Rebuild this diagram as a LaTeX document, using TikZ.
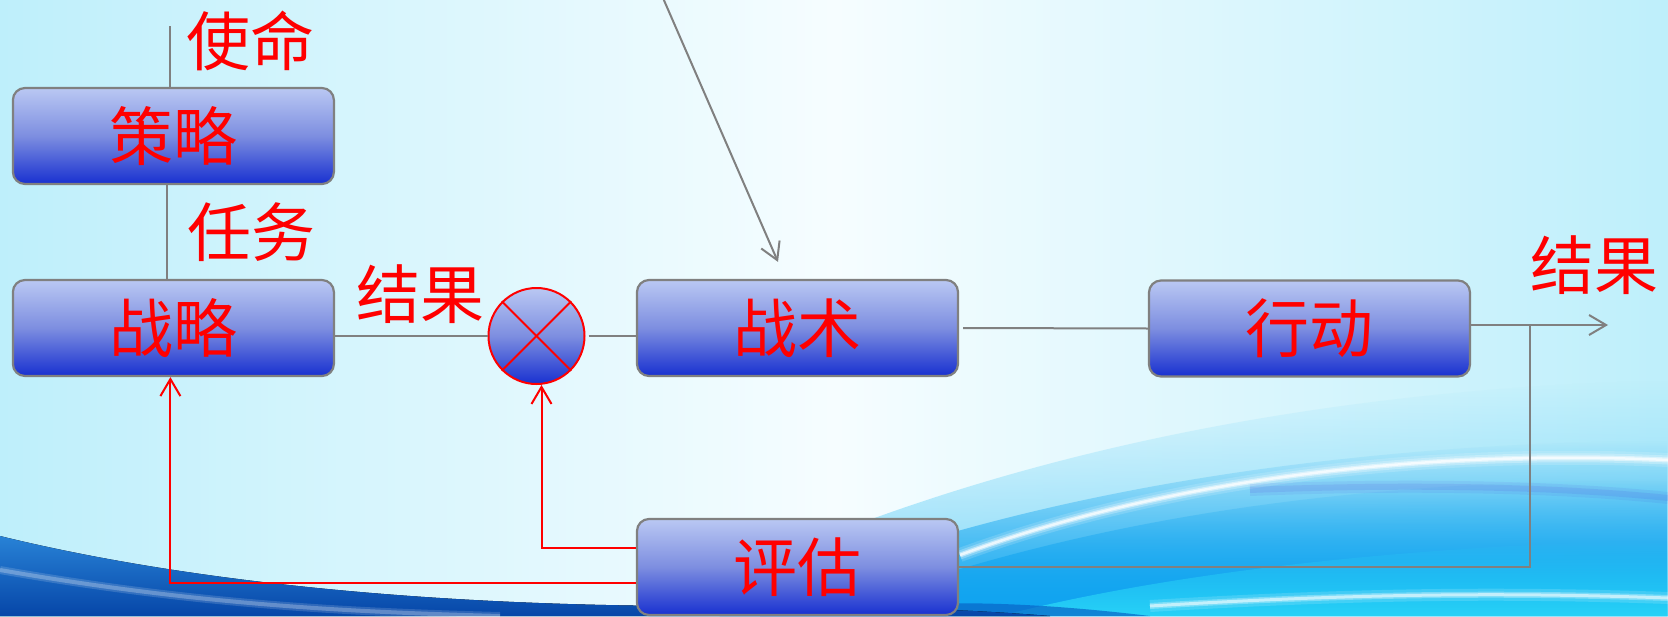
\documentclass[tikz,border=0pt]{standalone}
\usepackage{fontspec}
\newfontfamily\cjk{Noto Sans CJK SC}
\usetikzlibrary{arrows.meta,calc,fadings}
\definecolor{boxtop}{RGB}{186,200,243}
\definecolor{boxmid}{RGB}{125,142,224}
\definecolor{boxbot}{RGB}{24,48,208}
\definecolor{edgegray}{RGB}{128,128,128}
\definecolor{bgside}{RGB}{190,239,251}
\definecolor{bgmid}{RGB}{246,253,255}
\definecolor{wavelight}{RGB}{120,214,248}
\definecolor{wavemid}{RGB}{16,164,240}
\definecolor{wavebot}{RGB}{44,218,248}
\definecolor{wavedark}{RGB}{8,100,200}
\definecolor{deeptop}{RGB}{40,130,214}
\definecolor{deepbot}{RGB}{6,70,168}
\begin{document}
\begin{tikzpicture}[x=1pt,y=-1pt,
  stage/.style={draw=edgegray, line width=2.2pt, rounded corners=12pt,
    minimum width=321pt, minimum height=96pt, inner sep=0pt,
    top color=boxtop, bottom color=boxbot, middle color=boxmid,
    font=\cjk\fontsize{64}{64}\selectfont, text=red},
  sumnode/.style={circle, draw=red, line width=2pt, minimum size=96pt, inner sep=0pt,
    top color=boxtop, bottom color=boxbot, middle color=boxmid},
  lbl/.style={font=\cjk\fontsize{64}{64}\selectfont, text=red, inner sep=0pt},
  grayline/.style={draw=edgegray, line width=2pt},
  redline/.style={draw=red, line width=2pt},
  barb/.style={-{Straight Barb[length=17pt,width=20pt]}}
]
\useasboundingbox (0,0) rectangle (1668,616);
\clip (0,0) rectangle (1668,616);
% background
\fill[left color=bgside, right color=bgside, middle color=bgmid] (0,0) rectangle (1668,616);
% right wave, soft layers
\fill[wavelight, path fading=north]
  (650,616) .. controls (950,460) and (1300,390) .. (1668,380) -- (1668,616) -- cycle;
\fill[wavemid, path fading=north]
  (720,616) .. controls (980,500) and (1300,445) .. (1668,440) -- (1668,616) -- cycle;
\fill[wavemid, path fading=north]
  (820,616) .. controls (1050,530) and (1300,480) .. (1668,480) -- (1668,616) -- cycle;
\fill[wavebot, opacity=.85, path fading=north]
  (1000,616) .. controls (1200,565) and (1450,545) .. (1668,540) -- (1668,616) -- cycle;
\fill[wavedark, opacity=.7]
  (760,616) .. controls (900,600) and (1000,598) .. (1150,616) -- cycle;
% streaks
\foreach \w/\o in {14/.15,9/.25,5/.45,2.5/.7}
  \draw[white, opacity=\o, line width=\w pt] (960,555) .. controls (1150,485) and (1400,448) .. (1668,460);
\foreach \w/\o in {12/.06,6/.08}
  \draw[blue!60!violet, opacity=\o, line width=\w pt] (1250,490) .. controls (1400,484) and (1550,486) .. (1668,498);
\foreach \w/\o in {12/.15,6/.3,3/.55}
  \draw[white, opacity=\o, line width=\w pt] (1150,606) .. controls (1350,594) and (1500,592) .. (1668,598);
% left deep wave
\fill[top color=deeptop, bottom color=deepbot]
  (0,536) .. controls (200,585) and (450,606) .. (700,606) .. controls (850,606) and (950,608) .. (1050,616) -- (0,616) -- cycle;
\foreach \w/\o in {8/.15,4/.25}
  \draw[white, opacity=\o, line width=\w pt] (0,570) .. controls (200,605) and (350,612) .. (500,616);

% nodes
\node[stage] (ce) at (173.4,136) {策略};
\node[stage] (zl) at (173.4,328) {战略};
\node[stage] (zs) at (797.5,328) {战术};
\node[stage] (xd) at (1309.5,328.5) {行动};
\node[stage] (pg) at (797.5,567) {评估};
\node[sumnode] (s) at (536.5,336) {};
\draw[redline] (s.north east) -- (s.south west);
\draw[redline] (s.north west) -- (s.south east);

\node[lbl] (l1) at (250,41) {使命};
\node[lbl] (l2) at (251,232) {任务};
\node[lbl] (l3) at (420,294) {结果};
\node[lbl] (l4) at (1594,265) {结果};

\coordinate (top) at (170,26);
\coordinate (d) at (663,-2);
\coordinate (out) at (1608,325);
\coordinate (j) at (1530,325);

% gray connectors
\draw[grayline] (top) -- (top |- ce.north);
\draw[grayline] ([xshift=-6pt]ce.south) -- ([xshift=-6pt]zl.north);
\draw[grayline] (s.west -| zl.east) -- (s.west);
\draw[grayline] ([xshift=3pt]s.east) -- (s.east -| zs.west);
\draw[grayline] ([xshift=4pt]zs.east) -- (xd.west);
\draw[grayline, barb] (out -| xd.east) -- (out);
\draw[grayline] (pg.east) -| (j);
\draw[grayline, barb] (d) -- ([xshift=-19.5pt,yshift=17pt]zs.north);

% red feedback
\draw[redline, barb] ([yshift=19pt]pg.west) -| ([xshift=5pt]s.south);
\draw[redline, barb] ([yshift=-16pt]pg.west) -| ([xshift=-3pt]zl.south);
\end{tikzpicture}
\end{document}
